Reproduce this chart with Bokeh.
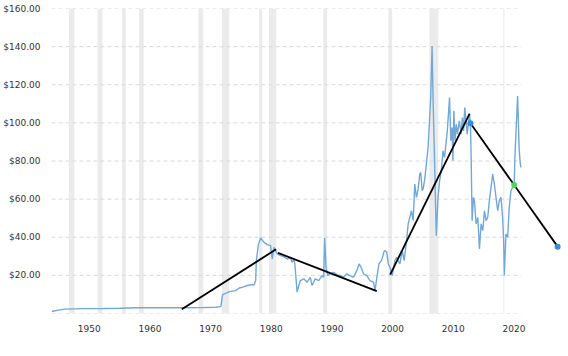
from bokeh.plotting import figure
from bokeh.models import Range1d, FixedTicker, NumeralTickFormatter
from bokeh.embed import file_html
from bokeh.resources import INLINE

# ---- data (x in the chart's axis years, y in USD) ----
years = [1943.82, 1944.92, 1946.02, 1947.5, 1949.0, 1952.3, 1955.0, 1957.75, 1961.0, 1965.41,
         1968.5, 1970.87, 1971.69, 1971.97, 1972.79, 1973.07, 1974.15, 1974.70, 1975.25, 1976.07,
         1976.89, 1977.16, 1977.43, 1977.54, 1977.87, 1978.25, 1978.80, 1979.34, 1979.89, 1980.16,
         1980.44, 1980.98, 1981.52, 1982.08, 1982.62, 1983.16, 1983.44, 1983.72, 1983.89, 1984.26,
         1984.54, 1984.80, 1985.36, 1985.90, 1986.44, 1986.72, 1987.26, 1987.82, 1988.36, 1988.64,
         1988.80, 1989.02, 1989.34, 1989.72, 1990.28, 1990.82, 1991.36, 1991.92, 1992.46, 1993.00,
         1993.56, 1994.10, 1994.48, 1994.80, 1995.20, 1995.74, 1996.28, 1996.84, 1997.10, 1997.38,
         1997.75, 1998.20, 1998.64, 1999.02, 1999.30, 1999.56, 1999.95, 2000.38, 2000.66, 2001.20,
         2001.59, 2001.91, 2002.30, 2002.57, 2002.84, 2003.11, 2003.39, 2003.66, 2003.93, 2004.21,
         2004.48, 2004.64, 2004.87, 2005.03, 2005.30, 2005.57, 2005.85, 2006.11, 2006.28, 2006.51,
         2006.67, 2006.84, 2007.21, 2007.49, 2007.75, 2008.03, 2008.31, 2008.57, 2009.02, 2009.39,
         2009.60, 2009.80, 2009.95, 2010.10, 2010.30, 2010.50, 2010.70, 2011.00, 2011.30, 2011.50,
         2011.70, 2011.90, 2012.30, 2012.67, 2012.84, 2012.95, 2013.11, 2013.33, 2013.50, 2013.77,
         2014.05, 2014.32, 2014.59, 2014.87, 2015.14, 2015.41, 2015.68, 2015.96, 2016.23, 2016.50,
         2016.78, 2017.05, 2017.33, 2017.60, 2017.87, 2018.14, 2018.31, 2018.42, 2018.69, 2018.97,
         2019.23, 2019.51, 2019.79, 2020.05, 2020.16, 2020.33, 2020.61, 2020.87, 2021.03, 2021.15]
prices = [1.05, 1.75, 2.27, 2.45, 2.55, 2.6, 2.75, 3.0, 3.0, 3.0,
          3.1, 3.3, 3.6, 9.9, 11.0, 11.5, 12.0, 13.4, 13.8, 14.7,
          15.2, 14.9, 17.3, 27.7, 36.0, 39.6, 37.3, 36.1, 35.6, 28.6,
          34.7, 31.3, 30.4, 29.8, 28.6, 29.2, 26.9, 28.1, 26.0, 11.2,
          14.7, 17.3, 18.2, 16.4, 19.0, 14.7, 18.2, 17.3, 19.9, 19.0,
          39.6, 24.3, 19.9, 20.8, 21.6, 20.4, 19.9, 19.0, 20.8, 19.9,
          19.0, 22.5, 26.0, 24.3, 20.8, 19.9, 17.3, 16.4, 12.0, 18.2,
          26.0, 28.0, 33.0, 32.5, 26.0, 24.3, 19.9, 27.7, 29.5, 26.0,
          33.0, 27.7, 38.2, 47.0, 50.4, 53.9, 48.7, 67.9, 60.9, 65.3,
          73.1, 74.0, 64.4, 65.3, 70.5, 78.4, 87.1, 102.8, 113.3, 140.3,
          113.3, 90.6, 40.8, 60.9, 69.6, 74.9, 85.3, 81.8, 95.8, 113.3,
          90.6, 97.5, 80.1, 106.3, 90.6, 99.3, 94.1, 101.1, 94.1, 102.8,
          95.8, 108.0, 94.1, 104.6, 99.3, 81.8, 48.7, 60.9, 59.2, 47.0,
          50.4, 33.9, 47.0, 43.5, 53.9, 48.7, 50.4, 59.2, 66.1, 73.1,
          67.9, 60.9, 53.9, 59.2, 60.9, 50.4, 38.2, 19.9, 41.7, 40.0,
          55.7, 64.4, 66.1, 67.4, 81.8, 94.1, 114.1, 86.2, 79.2, 76.6]

recession_start = [1946.66, 1951.36, 1955.41, 1958.20, 1967.98, 1971.85, 1977.98, 1979.62,
                   1988.57, 1999.30, 2006.07, 2018.25]
recession_end = [1947.54, 1952.18, 1956.02, 1958.97, 1968.80, 1973.07, 1978.52, 1980.82,
                 1989.21, 1999.93, 2007.54, 2018.45]

trend_x0 = [1965.25, 1981.10, 1999.60, 2012.84]
trend_y0 = [2.2, 31.8, 20.4, 99.85]
trend_x1 = [1980.80, 1997.40, 2012.70, 2027.21]
trend_y1 = [33.7, 11.7, 104.9, 35.08]

dot_x = [2012.84, 2020.05, 2027.21]
dot_y = [99.85, 67.4, 35.08]
dot_colors = ["#3d8bd0", "#55d455", "#3d8bd0"]

x_ticks = [1950, 1960, 1970, 1980, 1990, 2000, 2010, 2020]
y_ticks = [0, 20, 40, 60, 80, 100, 120, 140, 160]
x_start, x_end = 1943.77, 2029.0
grid_end = 2021.2

p = figure(width=568, height=356, x_range=Range1d(x_start, x_end), y_range=Range1d(0, 160),
           output_backend="svg", toolbar_location=None,
           min_border_left=48, min_border_right=0, min_border_top=8, min_border_bottom=43)
p.outline_line_color = None
p.xgrid.visible = False
p.ygrid.visible = False
p.background_fill_color = "white"
p.border_fill_color = "white"

p.quad(left=recession_start, right=recession_end, bottom=0, top=160,
       fill_color="#ebebeb", line_color=None)
p.segment(x0=[x_start] * len(y_ticks), x1=[grid_end] * len(y_ticks), y0=y_ticks, y1=y_ticks,
          line_color="#d9d9d9", line_width=1, line_dash="4 3")
p.line(years, prices, line_color="#72a8d8", line_width=1.4)
p.segment(x0=trend_x0, y0=trend_y0, x1=trend_x1, y1=trend_y1, line_color="#000000", line_width=1.8)
p.scatter(dot_x, dot_y, size=6, fill_color=dot_colors, line_color=None)

for ax in (p.xaxis[0], p.yaxis[0]):
    ax.axis_line_color = None
    ax.major_tick_line_color = None
    ax.minor_tick_line_color = None
    ax.major_label_text_font = "DejaVu Sans"
    ax.major_label_text_font_size = "9px"
    ax.major_label_text_color = "#333333"

p.xaxis.ticker = FixedTicker(ticks=x_ticks)
p.xaxis.major_label_standoff = 5
p.yaxis.ticker = FixedTicker(ticks=y_ticks)
p.yaxis.formatter = NumeralTickFormatter(format="$0.00")
p.yaxis.major_label_overrides = {0: ""}
p.yaxis.major_label_standoff = 5

open("out.html", "w").write(file_html(p, INLINE))
